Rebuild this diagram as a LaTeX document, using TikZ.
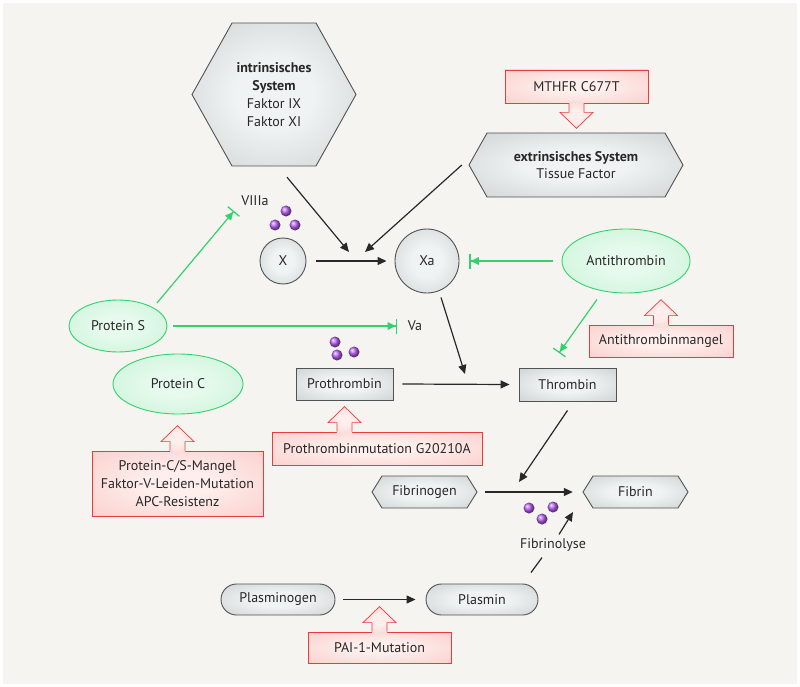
\documentclass[tikz,border=0pt]{standalone}
\usepackage{fontspec}
\setmainfont{PT Sans}
\usetikzlibrary{arrows.meta,calc,shapes.geometric}
\definecolor{bg}{RGB}{245,244,240}
\definecolor{grayin}{RGB}{240,243,243}
\definecolor{grayout}{RGB}{184,190,190}
\definecolor{grayline}{RGB}{80,84,84}
\definecolor{pinkin}{RGB}{254,238,236}
\definecolor{pinkout}{RGB}{248,190,186}
\definecolor{redline}{RGB}{235,60,60}
\definecolor{greenin}{RGB}{230,250,237}
\definecolor{greenout}{RGB}{188,240,205}
\definecolor{greenline}{RGB}{50,210,110}
\definecolor{txt}{RGB}{40,40,40}
\definecolor{purp}{RGB}{185,95,245}
\pgfdeclareradialshading{softgray}{\pgfpoint{0bp}{0bp}}{color(0bp)=(grayin); color(12bp)=(grayin); color(52bp)=(grayout); color(75bp)=(grayout)}
\pgfdeclareradialshading{softpink}{\pgfpoint{0bp}{0bp}}{color(0bp)=(pinkin); color(10bp)=(pinkin); color(52bp)=(pinkout); color(75bp)=(pinkout)}
\pgfdeclareradialshading{softgreen}{\pgfpoint{0bp}{0bp}}{color(0bp)=(greenin); color(10bp)=(greenin); color(48bp)=(greenout); color(75bp)=(greenout)}
\tikzset{
  graynode/.style={shade, shading=softgray, draw=grayline, line width=0.9pt},
  pinkbox/.style={rectangle, shade, shading=softpink, draw=redline, line width=0.8pt, inner sep=0pt},
  greenell/.style={ellipse, shade, shading=softgreen, draw=greenline, line width=0.9pt, inner sep=0pt},
  hexlbl/.style={draw=none, inner sep=0pt, align=center},
  plainlbl/.style={inner sep=1pt},
  arr/.style={-{Triangle[length=9pt,width=8pt]}, line width=1.2pt, draw=txt},
  inh/.style={-{Triangle[length=8pt,width=7.5pt]Bar[width=15pt,line width=1.3pt]}, line width=1.2pt, draw=greenline},
  blkfill/.style={shade, shading=softpink},
  blkline/.style={draw=redline, line width=0.7pt},
  dot/.style={ball color=purp}
}
\newcommand{\hexpath}[5]{% cx cy halfw halfh inset
  \path[graynode] ({#1-#3},#2) -- ({#1-#3+#5},{#2-#4}) -- ({#1+#3-#5},{#2-#4}) -- ({#1+#3},#2) -- ({#1+#3-#5},{#2+#4}) -- ({#1-#3+#5},{#2+#4}) -- cycle;}
\newcommand{\blkarrow}[1]{% base point, arrow pointing up
  \begin{scope}[shift={(#1)}]
    \path[blkfill] (-7.5,1.5) -- (-7.5,-9) -- (-16.5,-9) -- (0,-25) -- (16.5,-9) -- (7.5,-9) -- (7.5,1.5) -- cycle;
    \draw[blkline] (-7.5,0) -- (-7.5,-9) -- (-16.5,-9) -- (0,-25) -- (16.5,-9) -- (7.5,-9) -- (7.5,0);
  \end{scope}}
\newcommand{\blkarrowdown}[1]{%
  \begin{scope}[shift={(#1)}, yscale=-1]
    \path[blkfill] (-7.5,1.5) -- (-7.5,-9) -- (-16.5,-9) -- (0,-25) -- (16.5,-9) -- (7.5,-9) -- (7.5,1.5) -- cycle;
    \draw[blkline] (-7.5,0) -- (-7.5,-9) -- (-16.5,-9) -- (0,-25) -- (16.5,-9) -- (7.5,-9) -- (7.5,0);
  \end{scope}}
\begin{document}
\begin{tikzpicture}[x=1pt, y=-1pt, font=\fontsize{14}{18}\selectfont, text=txt]
\useasboundingbox (0,0) rectangle (800,687);
\fill[white] (0,0) rectangle (800,687);
\fill[bg] (3,3) rectangle (797,684);

% hexagons
\hexpath{274}{94.5}{82}{71.5}{40}
\node[hexlbl, minimum width=164pt, minimum height=143pt] (intr) at (274,94.5) {\textbf{intrinsisches}\\\textbf{System}\\Faktor IX\\Faktor XI};
\hexpath{576}{165}{107}{32}{18}
\node[hexlbl, minimum width=214pt, minimum height=64pt, font=\fontsize{14}{16.5}\selectfont] (extr) at (576,165) {\textbf{extrinsisches System}\\Tissue Factor};
\hexpath{424.5}{492}{52.5}{16}{10}
\node[hexlbl, minimum width=105pt, minimum height=32pt] (fgn) at (424.5,492) {Fibrinogen};
\hexpath{635.5}{492}{52.5}{16}{10}
\node[hexlbl, minimum width=105pt, minimum height=32pt] (fib) at (635.5,492) {Fibrin};

% gray nodes
\node[graynode, circle, minimum size=46pt, inner sep=0pt] (x) at (283,261) {X};
\node[graynode, circle, minimum size=64pt, inner sep=0pt] (xa) at (427,261) {Xa};
\node[graynode, rectangle, minimum width=97pt, minimum height=32pt, inner sep=0pt] (proth) at (344.5,384) {Prothrombin};
\node[graynode, rectangle, minimum width=97pt, minimum height=33pt, inner sep=0pt] (thr) at (567.5,384.5) {Thrombin};
\node[graynode, rectangle, rounded corners=15.5pt, minimum width=114pt, minimum height=31pt, inner sep=0pt] (plg) at (278,599.5) {Plasminogen};
\node[graynode, rectangle, rounded corners=15.5pt, minimum width=112pt, minimum height=31pt, inner sep=0pt] (pl) at (482,599.5) {Plasmin};

% green ellipses
\node[greenell, minimum width=98pt, minimum height=52pt] (ps) at (118,326) {Protein S};
\node[greenell, minimum width=130pt, minimum height=60pt] (pc) at (178,384) {Protein C};
\node[greenell, minimum width=128pt, minimum height=64pt] (at) at (626,261) {Antithrombin};

% pink boxes
\node[pinkbox, minimum width=143pt, minimum height=33pt] (mthfr) at (576.5,86.5) {MTHFR C677T};
\node[pinkbox, minimum width=171pt, minimum height=65pt, align=center, font=\fontsize{14}{18}\selectfont] (pcm) at (177.5,483.5) {Protein-C/S-Mangel\\Faktor-V-Leiden-Mutation\\APC-Resistenz};
\node[pinkbox, minimum width=210pt, minimum height=33pt] (prm) at (377,448.5) {Prothrombinmutation G20210A};
\node[pinkbox, minimum width=144pt, minimum height=32pt] (atm) at (661,341) {Antithrombinmangel};
\node[pinkbox, minimum width=143pt, minimum height=31pt] (pai) at (379.5,647.5) {PAI-1-Mutation};

% block arrows
\blkarrowdown{mthfr.south}
\blkarrow{pcm.north}
\blkarrow{prm.north -| proth.south}
\blkarrow{atm.north}
\blkarrow{pai.north}

% labels
\node[plainlbl] (viiia) at (255,201) {VIIIa};
\node[plainlbl] (va) at (415,326) {Va};
\node[plainlbl] (fly) at (553,545) {Fibrinolyse};

% purple dots
\shade[dot] (286,211) circle (5.5);
\shade[dot] (275,225) circle (5.5);
\shade[dot] (295,225) circle (5.5);
\shade[dot] (335,342) circle (5.5);
\shade[dot] (337,355) circle (5.5);
\shade[dot] (354,352) circle (5.5);
\shade[dot] (529,508) circle (5.5);
\shade[dot] (553,507) circle (5.5);
\shade[dot] (542,519) circle (5.5);

% junction coordinates
\coordinate (j1) at (349,252);
\coordinate (j2) at (365,252);
\coordinate (j3) at (465,374);
\coordinate (j4) at (519,482);
\coordinate (j5) at (573,512);
\coordinate (b1) at (234,211);
\coordinate (b2) at (397,326);
\coordinate (b3) at (559,353);

% black connectors
\draw[arr] ([xshift=13pt,yshift=-11pt]intr.south) -- (j1);
\draw[arr] ([xshift=-7pt]extr.west) -- (j2);
\draw[arr] ([xshift=10pt]x.east) -- ([xshift=-8pt]xa.west);
\draw[arr] ([xshift=14pt,yshift=-4pt]xa.south) -- (j3);
\draw[arr] ([xshift=9pt]proth.east) -- ([xshift=-9pt]thr.west);
\draw[arr] ([yshift=-9pt]thr.south) -- (j4);
\draw[arr] ([xshift=8pt]fgn.east) -- ([xshift=-10pt]fib.west);
\draw[arr] ([xshift=6pt,yshift=3pt]fly.north) -- (j5);
\draw[line width=1.2pt, draw=txt] ([xshift=49pt,yshift=11pt]pl.north) -- ([xshift=-11pt,yshift=-5pt]fly.south);
\draw[arr] ([xshift=8pt]plg.east) -- ([xshift=-10pt]pl.west);

% green inhibition connectors
\draw[inh] ([xshift=39pt,yshift=23pt]ps.center) -- (b1);
\draw[inh] ([xshift=6pt]ps.east) -- (b2);
\draw[inh] ([xshift=-9pt]at.west) -- ([xshift=10pt]xa.east);
\draw[inh] ([xshift=-29pt,yshift=-6pt]at.south) -- (b3);
\end{tikzpicture}
\end{document}
